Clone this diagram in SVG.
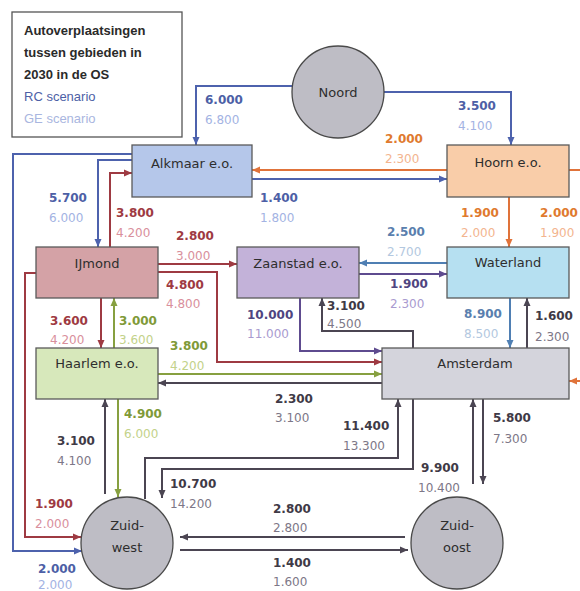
<svg xmlns="http://www.w3.org/2000/svg" width="580" height="591" viewBox="0 0 580 591">
<style>
.bg{fill:#ffffff}
.box{stroke:#5a5a5a;stroke-width:1.3}
.circ{fill:#bebdc5;stroke:#4a4a4a;stroke-width:1.3}
.nl{font-family:"DejaVu Sans",sans-serif;font-size:13px;fill:#2e2e2e;text-anchor:middle}
.lg{font-family:"Liberation Sans",sans-serif;font-size:13px}
.v{font-family:"DejaVu Sans",sans-serif;font-size:12px;font-weight:bold}
.g{font-family:"DejaVu Sans",sans-serif;font-size:12px}
.c{fill:none;stroke-width:2}
.cb{stroke:#4d62ad}.co{stroke:#e0733a}.cr{stroke:#9e3a42}.cg{stroke:#87a040}.cp{stroke:#5e4b8f}.cs{stroke:#4f7fb3}.ck{stroke:#4b4552}
.tb{fill:#4d5fa6}.lb{fill:#a3b3e3}
.to{fill:#e07a2e}.lo{fill:#f3b58f}
.tr{fill:#9e3a42}.lr{fill:#d98f9c}
.tg{fill:#7f9a38}.lgn{fill:#c3d28a}
.tp{fill:#4f4580}.lp{fill:#a99bd0}
.ts{fill:#5a7fae}.ls{fill:#b3c8e0}
.tk{fill:#3f3a46}.lk{fill:#7d7787}
</style>
<defs>
<marker id="mb" markerUnits="userSpaceOnUse" markerWidth="9" markerHeight="8" refX="8" refY="4" orient="auto"><path d="M0,0.5 L8,4 L0,7.5 z" fill="#4d62ad"/></marker>
<marker id="mo" markerUnits="userSpaceOnUse" markerWidth="9" markerHeight="8" refX="8" refY="4" orient="auto"><path d="M0,0.5 L8,4 L0,7.5 z" fill="#e0733a"/></marker>
<marker id="mr" markerUnits="userSpaceOnUse" markerWidth="9" markerHeight="8" refX="8" refY="4" orient="auto"><path d="M0,0.5 L8,4 L0,7.5 z" fill="#9e3a42"/></marker>
<marker id="mg" markerUnits="userSpaceOnUse" markerWidth="9" markerHeight="8" refX="8" refY="4" orient="auto"><path d="M0,0.5 L8,4 L0,7.5 z" fill="#87a040"/></marker>
<marker id="mp" markerUnits="userSpaceOnUse" markerWidth="9" markerHeight="8" refX="8" refY="4" orient="auto"><path d="M0,0.5 L8,4 L0,7.5 z" fill="#5e4b8f"/></marker>
<marker id="ms" markerUnits="userSpaceOnUse" markerWidth="9" markerHeight="8" refX="8" refY="4" orient="auto"><path d="M0,0.5 L8,4 L0,7.5 z" fill="#4f7fb3"/></marker>
<marker id="mk" markerUnits="userSpaceOnUse" markerWidth="9" markerHeight="8" refX="8" refY="4" orient="auto"><path d="M0,0.5 L8,4 L0,7.5 z" fill="#4b4552"/></marker>
</defs>
<rect class="bg" x="0" y="0" width="580" height="591"/>

<g id="legend">
<rect x="12" y="12" width="170" height="125" fill="#ffffff" stroke="#555555" stroke-width="1.3"/>
<text class="lg" x="24" y="35" font-weight="bold" fill="#2a2a2a">Autoverplaatsingen</text>
<text class="lg" x="24" y="57" font-weight="bold" fill="#2a2a2a">tussen gebieden in</text>
<text class="lg" x="24" y="79" font-weight="bold" fill="#2a2a2a">2030  in de OS</text>
<text class="lg" x="24" y="101" fill="#4d5fa6">RC scenario</text>
<text class="lg" x="24" y="123" fill="#a9b6e0">GE scenario</text>
</g>

<g id="connectors">
<path class="c cb" d="M292,86 H196 V145" marker-end="url(#mb)"/>
<path class="c cb" d="M384,92 H511 V145" marker-end="url(#mb)"/>
<path class="c cb" d="M252,179 H447" marker-end="url(#mb)"/>
<path class="c cb" d="M132,160 H98 V247" marker-end="url(#mb)"/>
<path class="c cb" d="M132,154 H13 V551 H82" marker-end="url(#mb)"/>
<path class="c co" d="M447,170 H252" marker-end="url(#mo)"/>
<path class="c co" d="M509,197 V247" marker-end="url(#mo)"/>
<path class="c co" d="M569,170 H586 V381 H569" marker-end="url(#mo)"/>
<path class="c cr" d="M110,247 V173 H132" marker-end="url(#mr)"/>
<path class="c cr" d="M158,264 H237" marker-end="url(#mr)"/>
<path class="c cr" d="M158,272 H217 V362 H382" marker-end="url(#mr)"/>
<path class="c cr" d="M36,273 H25 V537 H81" marker-end="url(#mr)"/>
<path class="c cr" d="M101,298 V348" marker-end="url(#mr)"/>
<path class="c cg" d="M114,348 V298" marker-end="url(#mg)"/>
<path class="c cg" d="M158,374 H382" marker-end="url(#mg)"/>
<path class="c cg" d="M118,399 V497" marker-end="url(#mg)"/>
<path class="c cp" d="M300,298 V351 H382" marker-end="url(#mp)"/>
<path class="c cp" d="M359,274 H447" marker-end="url(#mp)"/>
<path class="c cs" d="M447,263 H359" marker-end="url(#ms)"/>
<path class="c cs" d="M510,298 V348" marker-end="url(#ms)"/>
<path class="c ck" d="M382,383 H158" marker-end="url(#mk)"/>
<path class="c ck" d="M413,348 V331 H322 V298" marker-end="url(#mk)"/>
<path class="c ck" d="M527,348 V298" marker-end="url(#mk)"/>
<path class="c ck" d="M105,494 V399" marker-end="url(#mk)"/>
<path class="c ck" d="M145,499 V458 H398 V399" marker-end="url(#mk)"/>
<path class="c ck" d="M413,399 V469 H162 V498" marker-end="url(#mk)"/>
<path class="c ck" d="M483,399 V484" marker-end="url(#mk)"/>
<path class="c ck" d="M473,484 V399" marker-end="url(#mk)"/>
<path class="c ck" d="M405,537 H180" marker-end="url(#mk)"/>
<path class="c ck" d="M180,550 H408" marker-end="url(#mk)"/>
</g>

<g id="labels">
<text class="v tb" x="205" y="104">6.000</text><text class="g lb" x="205" y="124">6.800</text>
<text class="v tb" x="458" y="110">3.500</text><text class="g lb" x="458" y="130">4.100</text>
<text class="v to" x="385" y="143">2.000</text><text class="g lo" x="385" y="163">2.300</text>
<text class="v tb" x="260" y="202">1.400</text><text class="g lb" x="260" y="222">1.800</text>
<text class="v tb" x="49" y="202">5.700</text><text class="g lb" x="49" y="222">6.000</text>
<text class="v tr" x="116" y="217">3.800</text><text class="g lr" x="116" y="237">4.200</text>
<text class="v tr" x="176" y="240">2.800</text><text class="g lr" x="176" y="260">3.000</text>
<text class="v tr" x="166" y="289">4.800</text><text class="g lr" x="166" y="308">4.800</text>
<text class="v tr" x="50" y="325">3.600</text><text class="g lr" x="50" y="344">4.200</text>
<text class="v tg" x="119" y="325">3.000</text><text class="g lgn" x="119" y="344">3.600</text>
<text class="v tg" x="170" y="350">3.800</text><text class="g lgn" x="170" y="370">4.200</text>
<text class="v tp" x="247" y="319">10.000</text><text class="g lp" x="247" y="338">11.000</text>
<text class="v tk" x="327" y="310">3.100</text><text class="g lk" x="327" y="328">4.500</text>
<text class="v ts" x="387" y="236">2.500</text><text class="g ls" x="387" y="256">2.700</text>
<text class="v tp" x="390" y="288">1.900</text><text class="g lp" x="390" y="308">2.300</text>
<text class="v to" x="461" y="217">1.900</text><text class="g lo" x="461" y="237">2.000</text>
<text class="v to" x="540" y="217">2.000</text><text class="g lo" x="540" y="237">1.900</text>
<text class="v ts" x="464" y="318">8.900</text><text class="g ls" x="464" y="338">8.500</text>
<text class="v tk" x="535" y="320">1.600</text><text class="g lk" x="535" y="341">2.300</text>
<text class="v tk" x="275" y="403">2.300</text><text class="g lk" x="275" y="422">3.100</text>
<text class="v tg" x="124" y="418">4.900</text><text class="g lgn" x="124" y="438">6.000</text>
<text class="v tk" x="57" y="445">3.100</text><text class="g lk" x="57" y="465">4.100</text>
<text class="v tk" x="343" y="430">11.400</text><text class="g lk" x="343" y="450">13.300</text>
<text class="v tk" x="170" y="488">10.700</text><text class="g lk" x="170" y="508">14.200</text>
<text class="v tk" x="493" y="422">5.800</text><text class="g lk" x="493" y="443">7.300</text>
<text class="v tk" x="421" y="472">9.900</text><text class="g lk" x="418" y="492">10.400</text>
<text class="v tr" x="35" y="508">1.900</text><text class="g lr" x="35" y="528">2.000</text>
<text class="v tb" x="38" y="573">2.000</text><text class="g lb" x="38" y="589">2.000</text>
<text class="v tk" x="273" y="513">2.800</text><text class="g lk" x="273" y="532">2.800</text>
<text class="v tk" x="273" y="567">1.400</text><text class="g lk" x="273" y="586">1.600</text>
</g>

<g id="noord"><circle class="circ" cx="338" cy="92" r="46"/><text class="nl" x="338" y="97">Noord</text></g>
<g id="alkmaar"><rect class="box" x="132" y="145" width="120" height="52" fill="#b5c7ea"/><text class="nl" x="192" y="168">Alkmaar e.o.</text></g>
<g id="hoorn"><rect class="box" x="447" y="145" width="122" height="52" fill="#f9cda9"/><text class="nl" x="508" y="167">Hoorn e.o.</text></g>
<g id="ijmond"><rect class="box" x="36" y="247" width="122" height="51" fill="#d4a2a6"/><text class="nl" x="97" y="268">IJmond</text></g>
<g id="zaanstad"><rect class="box" x="237" y="247" width="122" height="51" fill="#c3b2d9"/><text class="nl" x="298" y="268">Zaanstad e.o.</text></g>
<g id="waterland"><rect class="box" x="447" y="247" width="122" height="51" fill="#b6e0f1"/><text class="nl" x="508" y="267">Waterland</text></g>
<g id="haarlem"><rect class="box" x="36" y="348" width="122" height="51" fill="#d7e8bb"/><text class="nl" x="97" y="368">Haarlem e.o.</text></g>
<g id="amsterdam"><rect class="box" x="382" y="348" width="187" height="51" fill="#d4d4dc"/><text class="nl" x="475" y="368">Amsterdam</text></g>
<g id="zuidwest"><circle class="circ" cx="127" cy="543" r="46"/><text class="nl" x="127" y="530">Zuid-</text><text class="nl" x="127" y="552">west</text></g>
<g id="zuidoost"><circle class="circ" cx="457" cy="543" r="46"/><text class="nl" x="457" y="530">Zuid-</text><text class="nl" x="457" y="552">oost</text></g>
</svg>
